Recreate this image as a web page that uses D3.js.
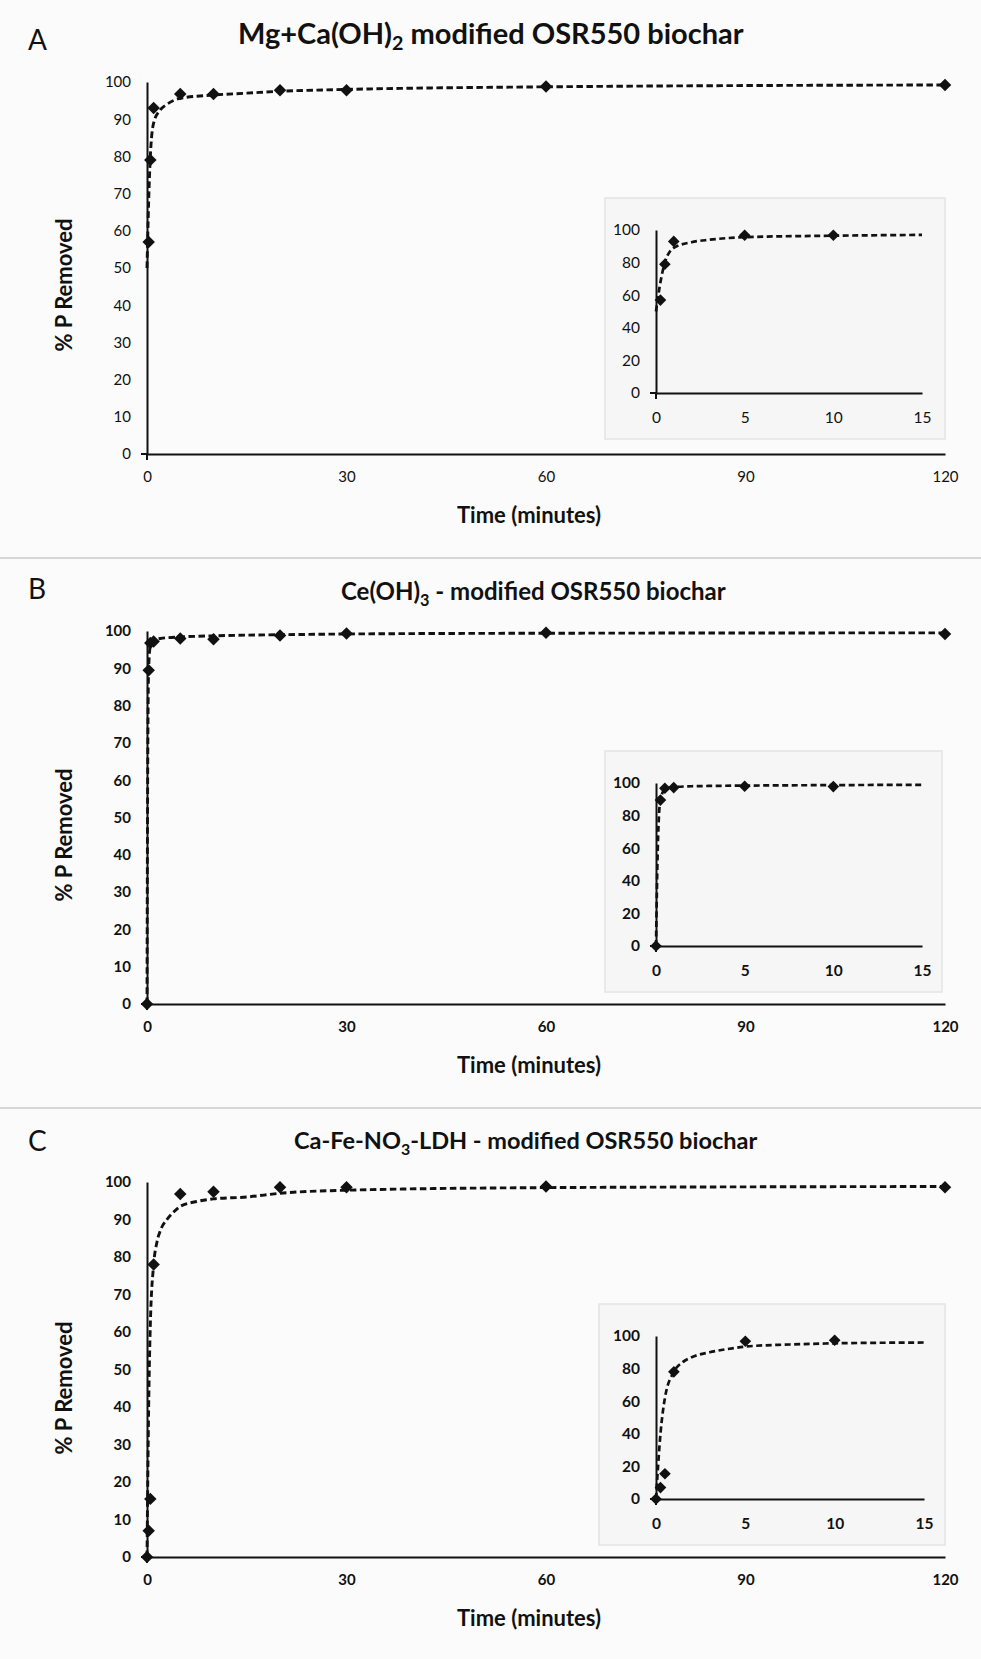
<!DOCTYPE html>
<html>
<head>
<meta charset="utf-8">
<script src="https://cdn.jsdelivr.net/npm/d3@7"></script>
<style>
  body { margin: 0; background: #fbfbfb; }
  svg { display: block; }
  text { font-family: Lato, "Open Sans", sans-serif; fill: #111; }
</style>
</head>
<body>
<div class="container"></div>
<script>

// tick labels
const xTicksMain = [0, 30, 60, 90, 120];
const yTicksMain = [0, 10, 20, 30, 40, 50, 60, 70, 80, 90, 100];
const xTicksInset = [0, 5, 10, 15];
const yTicksInset = [0, 20, 40, 60, 80, 100];

// panel A - Mg+Ca(OH)2
const timeA = [0.25, 0.5, 1, 5, 10, 20, 30, 60, 120];
const pctA = [57, 79, 93, 96.8, 96.8, 97.8, 97.8, 98.8, 99.2];
const fitTimeA = [0, 0.25, 0.5, 1, 2, 3, 5, 10, 15, 20, 30, 60, 120];
const fitPctA = [50, 68, 80, 89, 92.5, 94, 95.6, 96.5, 97, 97.5, 98, 98.7, 99.2];

// panel B - Ce(OH)3
const timeB = [0, 0.25, 0.5, 1, 5, 10, 20, 30, 60, 120];
const pctB = [0, 89.5, 96.8, 97.2, 98, 97.8, 98.8, 99.3, 99.5, 99.2];
const fitTimeB = [0, 0.1, 0.25, 0.5, 1, 2, 5, 10, 15, 20, 30, 60, 120];
const fitPctB = [0, 60, 90, 96, 97.5, 98, 98.4, 98.7, 98.9, 99, 99.2, 99.4, 99.5];

// panel C - Ca-Fe-NO3-LDH
const timeC = [0, 0.25, 0.5, 1, 5, 10, 20, 30, 60, 120];
const pctC = [0, 7, 15.5, 78, 96.8, 97.4, 98.6, 98.6, 98.8, 98.6];
const fitTimeC = [0, 0.25, 0.5, 1, 1.5, 2, 3, 4, 5, 7.5, 10, 15, 20, 30, 60, 120];
const fitPctC = [0, 40, 62, 78, 84, 87, 90, 92, 93.5, 94.8, 95.5, 96, 97, 97.8, 98.5, 98.8];

const width = 981;
const height = 1659;

const svg = d3.select('.container')
  .append('svg')
  .attr('width', width)
  .attr('height', height);

// separators between the three panels
[558, 1108].forEach(y => {
  svg.append('line')
    .attr('x1', 0).attr('x2', width)
    .attr('y1', y).attr('y2', y)
    .attr('stroke', '#d6d6d6')
    .attr('stroke-width', 2);
});

const diamond = d3.symbol().type(d3.symbolSquare);

const drawPlot = (parent, x, y, times, pcts, fitT, fitP, opt) => {
  const g = parent.append('g');

  // axes
  const xAxis = d3.axisBottom(x)
    .tickValues(opt.xTicks)
    .tickSizeInner(0)
    .tickSizeOuter(0)
    .tickPadding(opt.xPad);
  const yAxis = d3.axisLeft(y)
    .tickValues(opt.yTicks)
    .tickSizeInner(0)
    .tickSizeOuter(0)
    .tickPadding(opt.yPad);

  const gx = g.append('g')
    .attr('transform', `translate(0,${y(0)})`)
    .call(xAxis);
  const gy = g.append('g')
    .attr('transform', `translate(${x(0)},0)`)
    .call(yAxis);

  [gx, gy].forEach(a => {
    a.select('.domain').attr('stroke', '#111').attr('stroke-width', opt.axisW);
    a.selectAll('text')
      .style('font-family', 'Lato, sans-serif')
      .style('font-size', opt.fontSize + 'px')
      .style('font-weight', opt.weight)
      .attr('fill', '#111');
  });

  // cross tick at origin
  g.append('line')
    .attr('x1', x(0) - 6).attr('x2', x(0))
    .attr('y1', y(0)).attr('y2', y(0))
    .attr('stroke', '#111').attr('stroke-width', opt.axisW);
  g.append('line')
    .attr('x1', x(0)).attr('x2', x(0))
    .attr('y1', y(0)).attr('y2', y(0) + 6)
    .attr('stroke', '#111').attr('stroke-width', opt.axisW);

  const maxT = x.domain()[1];
  const fit = fitT.map((t, i) => [t, fitP[i]]).filter(d => d[0] <= maxT);
  const line = d3.line()
    .x(d => x(d[0]))
    .y(d => y(d[1]))
    .curve(d3.curveMonotoneX);

  g.append('path')
    .datum(fit)
    .attr('d', line)
    .attr('fill', 'none')
    .attr('stroke', '#111')
    .attr('stroke-width', opt.lineW)
    .attr('stroke-dasharray', opt.dash);

  const pts = times.map((t, i) => [t, pcts[i]]).filter(d => d[0] <= maxT);
  g.selectAll('.pt')
    .data(pts)
    .enter()
    .append('path')
    .attr('class', 'pt')
    .attr('d', diamond.size(opt.markerSize))
    .attr('transform', d => `translate(${x(d[0])},${y(d[1])}) rotate(45)`)
    .attr('fill', '#111');
};

const panels = [
  {
    letter: 'A', letterY: 40,
    title: ['Mg+Ca(OH)', '2', ' modified OSR550 biochar'], titleX: 238, titleY: 34, titleSize: 29,
    y0: 454, y100: 82,
    inset: { box: [605, 198, 340, 241], x0: 656, x15: 922, y0: 393, y100: 230 },
    t: timeA, p: pctA, ft: fitTimeA, fp: fitPctA, weight: 'normal'
  },
  {
    letter: 'B', letterY: 589,
    title: ['Ce(OH)', '3', ' - modified OSR550 biochar'], titleX: 341, titleY: 592, titleSize: 24,
    y0: 1004, y100: 631,
    inset: { box: [605, 751, 337, 241], x0: 656, x15: 922, y0: 946, y100: 783 },
    t: timeB, p: pctB, ft: fitTimeB, fp: fitPctB, weight: 'bold'
  },
  {
    letter: 'C', letterY: 1141,
    title: ['Ca-Fe-NO', '3', '-LDH - modified OSR550 biochar'], titleX: 294, titleY: 1141, titleSize: 23.5,
    y0: 1557, y100: 1182,
    inset: { box: [599, 1304, 346, 241], x0: 656, x15: 924, y0: 1499, y100: 1336 },
    t: timeC, p: pctC, ft: fitTimeC, fp: fitPctC, weight: 'bold'
  }
];

panels.forEach(pn => {
  const g = svg.append('g');

  g.append('text')
    .attr('x', 28).attr('y', pn.letterY)
    .attr('dy', '0.35em')
    .style('font-size', '28px')
    .text(pn.letter);

  const tt = g.append('text')
    .attr('x', pn.titleX).attr('y', pn.titleY)
    .attr('dy', '0.35em')
    .style('font-size', pn.titleSize + 'px')
    .style('font-weight', 'bold');
  tt.append('tspan').text(pn.title[0]);
  tt.append('tspan').attr('dy', '6').style('font-size', (pn.titleSize * 0.68) + 'px').text(pn.title[1]);
  tt.append('tspan').attr('dy', '-6').text(pn.title[2]);

  const x = d3.scaleLinear().domain([0, 120]).range([147, 945]);
  const y = d3.scaleLinear().domain([0, 100]).range([pn.y0, pn.y100]);

  drawPlot(g, x, y, pn.t, pn.p, pn.ft, pn.fp, {
    xTicks: xTicksMain, yTicks: yTicksMain, xPad: 17, yPad: 16,
    fontSize: 15, weight: pn.weight, axisW: 2, lineW: 2.9,
    dash: '6.5,3.5', markerSize: 78
  });

  g.append('text')
    .attr('x', 529).attr('y', pn.y0 + 61)
    .attr('dy', '0.35em')
    .attr('text-anchor', 'middle')
    .style('font-size', '22px')
    .style('font-weight', 'bold')
    .text('Time (minutes)');

  g.append('text')
    .attr('transform', `translate(64,${pn.y0 - 169}) rotate(-90)`)
    .attr('dy', '0.35em')
    .attr('text-anchor', 'middle')
    .style('font-size', '22px')
    .style('font-weight', 'bold')
    .text('% P Removed');

  // inset
  const ib = pn.inset;
  g.append('rect')
    .attr('x', ib.box[0]).attr('y', ib.box[1])
    .attr('width', ib.box[2]).attr('height', ib.box[3])
    .attr('fill', '#f6f6f6')
    .attr('stroke', '#e4e4e4')
    .attr('stroke-width', 1.5);

  const xi = d3.scaleLinear().domain([0, 15]).range([ib.x0, ib.x15]);
  const yi = d3.scaleLinear().domain([0, 100]).range([ib.y0, ib.y100]);

  drawPlot(g, xi, yi, pn.t, pn.p, pn.ft, pn.fp, {
    xTicks: xTicksInset, yTicks: yTicksInset, xPad: 19, yPad: 16,
    fontSize: 15.5, weight: pn.weight, axisW: 2, lineW: 2.7,
    dash: '6,3.5', markerSize: 68
  });
});

</script>
</body>
</html>
